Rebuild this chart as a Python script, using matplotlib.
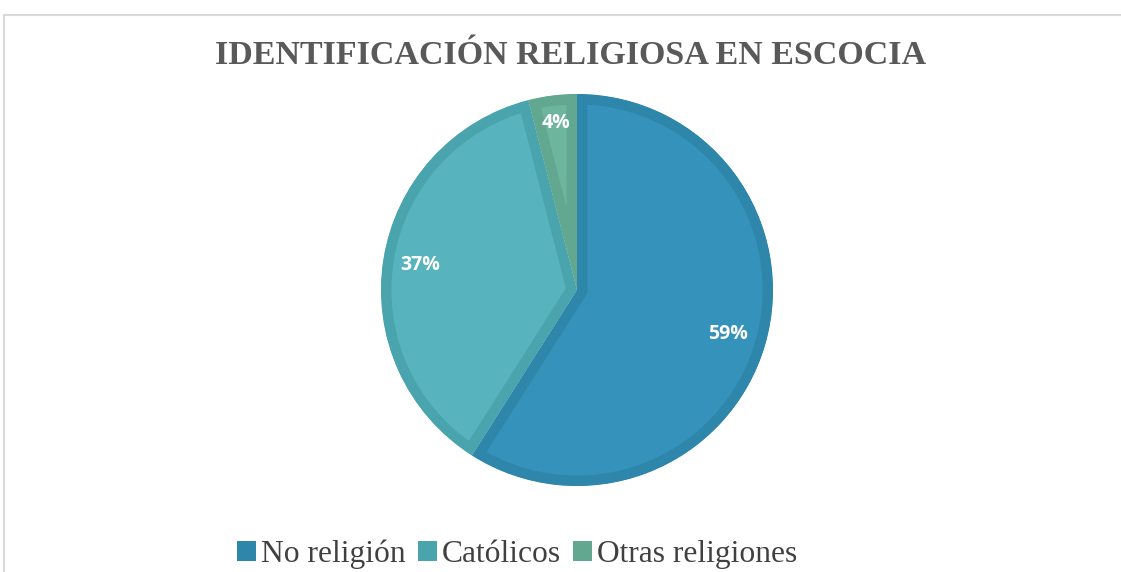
import numpy as np
import matplotlib
matplotlib.use("Agg")
import matplotlib.pyplot as plt
import matplotlib.patches as mpatches
from matplotlib.lines import Line2D

labels = ['No religión', 'Católicos', 'Otras religiones']
values = [59, 37, 4]
fill_colors = ['#3593BB', '#57B4BE', '#6DB59C']
band_colors = ['#2E86AB', '#4AA4AE', '#62A78F']
label_dist = [0.80, 0.81, 0.86]

fig = plt.figure(figsize=(11.21, 5.72), dpi=100)

# grey frame of the chart area (top and left edge visible)
fig.add_artist(Line2D([4 / 1121, 4 / 1121], [0, 1 - 15 / 572], color='#D9D9D9', lw=1.5,
                      transform=fig.transFigure))
fig.add_artist(Line2D([4 / 1121, 1], [1 - 15 / 572, 1 - 15 / 572], color='#D9D9D9', lw=1.5,
                      transform=fig.transFigure))

cx, cy, r = 577, 290, 196
ax = fig.add_axes([(cx - r) / 1121, (572 - cy - r) / 572, 2 * r / 1121, 2 * r / 572])

wedges, _ = ax.pie(values, colors=fill_colors, startangle=90, counterclock=False,
                   radius=1.0)
# darker band drawn inside each wedge: stroke clipped to the wedge itself
for w, bc in zip(wedges, band_colors):
    w.set_edgecolor(bc)
    w.set_linewidth(15)
    w.set_clip_on(True)
    w.set_clip_path(w)

for w, v, d in zip(wedges, values, label_dist):
    ang = np.deg2rad((w.theta1 + w.theta2) / 2)
    ax.text(d * np.cos(ang), d * np.sin(ang), f'{v}%', ha='center', va='center',
            color='white', fontsize=14, fontweight='bold', family='Open Sans')

ax.set_xlim(-1.0, 1.0)
ax.set_ylim(-1.0, 1.0)
ax.set_aspect('equal')
ax.axis('off')

fig.text(571 / 1121, 1 - 55 / 572, 'IDENTIFICACIÓN RELIGIOSA EN ESCOCIA', ha='center',
         va='center', fontsize=24.5, fontweight='bold', family='Liberation Serif',
         color='#595959')

handles = [mpatches.Patch(facecolor=c, edgecolor='none') for c in band_colors]
fig.legend(handles, labels, loc='center', bbox_to_anchor=(517 / 1121, 1 - 554 / 572),
           ncol=3, frameon=False, prop={'family': 'Liberation Serif', 'size': 22.7},
           labelcolor='#404040', handlelength=0.6, handleheight=0.6,
           handletextpad=0.15, columnspacing=0.4, borderpad=0)

fig.savefig('out.png', dpi=100, facecolor='white')
